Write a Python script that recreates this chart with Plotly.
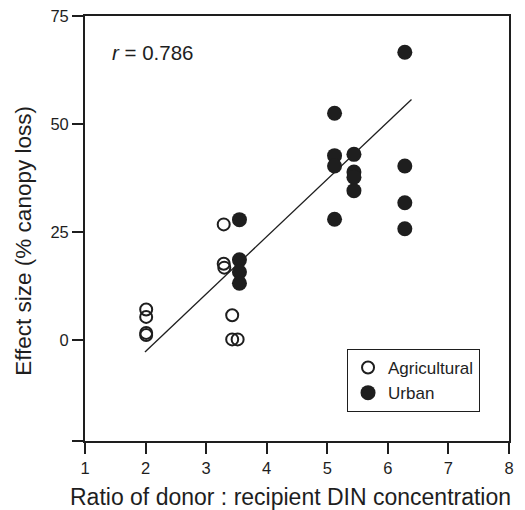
import plotly.graph_objects as go

# Agricultural (open circles)
agri_x = [2.01, 2.01, 2.01, 2.01, 3.29, 3.29, 3.30, 3.43, 3.43, 3.52]
agri_y = [7.1, 5.4, 1.7, 1.2, 26.8, 17.7, 16.8, 5.8, 0.2, 0.2]

# Urban (filled circles)
urban_x = [3.55, 3.55, 3.55, 3.55, 5.12, 5.12, 5.12, 5.12, 5.44, 5.44, 5.44, 5.44,
           6.28, 6.28, 6.28, 6.28]
urban_y = [27.9, 18.6, 15.8, 13.2, 52.5, 42.7, 40.3, 28.0, 43.0, 38.9, 37.7, 34.6,
           66.6, 40.3, 31.8, 25.8]

# Regression line endpoints
fit_x = [1.99, 6.39]
fit_y = [-2.7, 55.7]

x_ticks = [1, 2, 3, 4, 5, 6, 7, 8]
y_tick_vals = [-23.3, 0, 25, 50, 75]
y_tick_text = ["", "0", "25", "50", "75"]

INK = "#1e1e1e"
FONT = "Liberation Sans, Arial, Helvetica, sans-serif"

fig = go.Figure()
fig.add_trace(go.Scatter(x=fit_x, y=fit_y, mode="lines",
                         line=dict(color=INK, width=1.3), showlegend=False,
                         hoverinfo="skip"))
fig.add_trace(go.Scatter(x=agri_x, y=agri_y, mode="markers", name="Agricultural",
                         marker=dict(symbol="circle-open", size=12, color=INK,
                                     line=dict(width=2, color=INK))))
fig.add_trace(go.Scatter(x=urban_x, y=urban_y, mode="markers", name="Urban",
                         marker=dict(symbol="circle", size=15, color=INK,
                                     line=dict(width=0))))

fig.update_layout(
    width=525, height=510,
    margin=dict(l=84.5, r=16, t=16, b=69, autoexpand=False),
    paper_bgcolor="white", plot_bgcolor="white",
    font=dict(family=FONT, color=INK, size=16.5),
    showlegend=True,
    legend=dict(x=0.618, y=0.2165, xanchor="left", yanchor="top",
                bordercolor=INK, borderwidth=1, bgcolor="white",
                font=dict(size=17, color=INK), itemsizing="trace",
                tracegroupgap=0, itemwidth=30),
    xaxis=dict(range=[1, 8], tickvals=x_ticks, ticks="outside", ticklen=11,
               tickwidth=1.5, tickcolor=INK, showline=True, linecolor=INK,
               linewidth=1.8, mirror=True, showgrid=False, zeroline=False,
               tickfont=dict(size=16.5, color=INK), automargin=False),
    yaxis=dict(range=[-23.3, 75], tickvals=y_tick_vals, ticktext=y_tick_text,
               ticks="outside", ticklen=11, tickwidth=1.5, tickcolor=INK,
               showline=True, linecolor=INK, linewidth=1.8, mirror=True,
               showgrid=False, zeroline=False, tickfont=dict(size=16.5, color=INK),
               automargin=False),
    annotations=[
        dict(text="<i>r</i> = 0.786", x=0.058, y=0.915, xref="paper", yref="paper",
             xanchor="left", yanchor="middle", showarrow=False,
             font=dict(size=20.5, color=INK)),
        dict(text="Ratio of donor : recipient DIN concentration", x=0.485, y=-0.132,
             xref="paper", yref="paper", xanchor="center", yanchor="middle",
             showarrow=False, font=dict(size=23, color=INK)),
        dict(text="Effect size (% canopy loss)", x=-0.145, y=0.47,
             xref="paper", yref="paper", xanchor="center", yanchor="middle",
             textangle=-90, showarrow=False, font=dict(size=22.5, color=INK)),
    ],
)

fig.write_html("out.html", config={"displayModeBar": False},
               post_script="document.body.style.margin='0';document.body.style.padding='0';")
